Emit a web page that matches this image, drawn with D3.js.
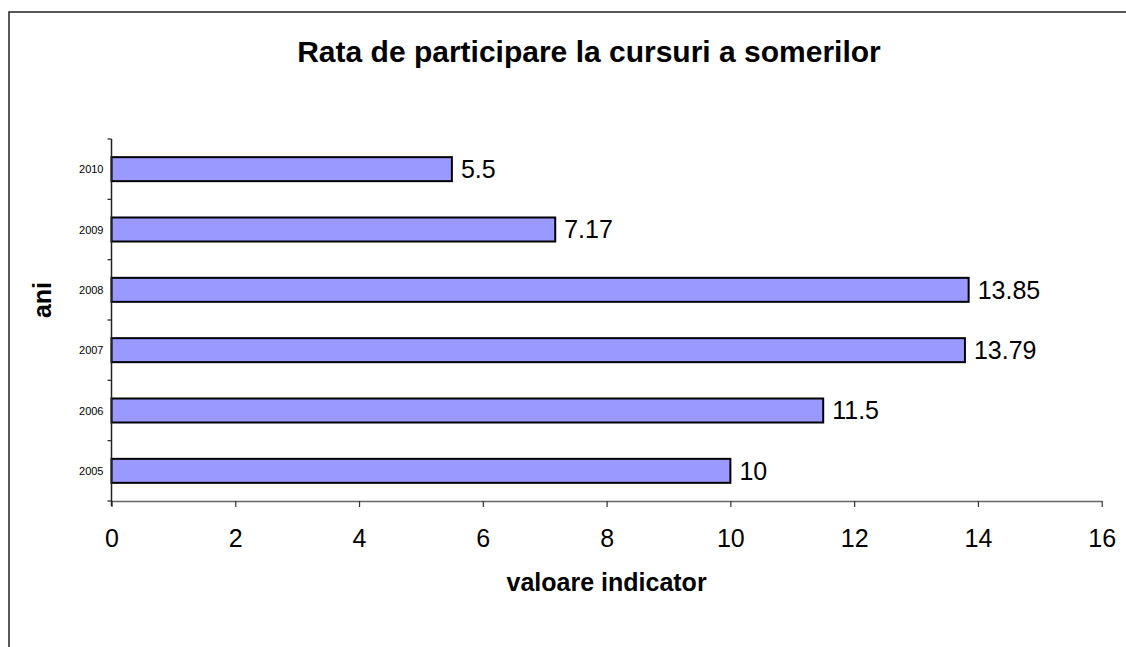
<!DOCTYPE html>
<html><head><meta charset="utf-8">
<script src="https://cdn.jsdelivr.net/npm/d3@7"></script>
<style>body{margin:0;background:#fff;} text{font-family:"Liberation Sans",Arial,sans-serif;}</style>
</head><body>
<svg id="c" width="1126" height="647"></svg>
<script>
const years = ["2005","2006","2007","2008","2009","2010"];
const values = [10, 11.5, 13.79, 13.85, 7.17, 5.5];
const valueLabels = ["10","11.5","13.79","13.85","7.17","5.5"];
const xTicks = [0,2,4,6,8,10,12,14,16];
const title = "Rata de participare la cursuri a somerilor";
const xTitle = "valoare indicator";
const yTitle = "ani";

const svg = d3.select("#c");
svg.append("rect").attr("x",9).attr("y",12).attr("width",1130).attr("height",650)
  .attr("fill","#fff").attr("stroke","#222").attr("stroke-width",1.5);

const L=111.5, R=1101.7, T=139, B=501;
const x = d3.scaleLinear().domain([0,16]).range([L,R]);
const band = (B-T)/years.length;
const yc = (d) => T + (years.length-1-years.indexOf(d))*band + band/2;

// bars
svg.selectAll("rect.bar").data(years).enter().append("rect")
  .attr("class","bar")
  .attr("x",x(0))
  .attr("y",(d)=>yc(d) - 12)
  .attr("height",24)
  .attr("width",(d,i)=>x(values[i])-x(0))
  .attr("fill","#9999ff").attr("stroke","#000").attr("stroke-width",2);

// value labels
svg.selectAll("text.val").data(years).enter().append("text")
  .attr("x",(d,i)=>x(values[i])+9)
  .attr("y",(d)=>yc(d) + 8.8)
  .attr("font-size",25).attr("fill","#000")
  .text((d,i)=>valueLabels[i]);

// x axis
const xa = svg.append("g").attr("transform",`translate(0,${B})`)
  .call(d3.axisBottom(x).tickValues(xTicks).tickSize(6).tickSizeOuter(0).tickFormat(d3.format("d")));
xa.select(".domain").attr("stroke","#666").attr("stroke-width",1.5);
xa.selectAll(".tick line").attr("stroke","#333").attr("stroke-width",1.2);
xa.selectAll(".tick text").attr("font-size",25).attr("fill","#000").attr("dy",0).attr("y",46)
  .attr("font-family","Liberation Sans, Arial, sans-serif");

// y axis
const yg = svg.append("g");
yg.append("line").attr("x1",L).attr("x2",L).attr("y1",T).attr("y2",B+5).attr("stroke","#222").attr("stroke-width",1.5);
for(let i=0;i<=years.length;i++){
  yg.append("line").attr("x1",L-4).attr("x2",L).attr("y1",T+i*band).attr("y2",T+i*band).attr("stroke","#222").attr("stroke-width",1.2);
}
years.forEach((d)=>{
  yg.append("text").attr("x",103.5).attr("y",yc(d)+4)
    .attr("text-anchor","end").attr("font-size",11).attr("fill","#000").text(d);
});

// titles
svg.append("text").attr("x",589).attr("y",62).attr("text-anchor","middle")
  .attr("font-size",30).attr("font-weight","bold").text(title);
svg.append("text").attr("x",(L+R)/2).attr("y",591).attr("text-anchor","middle")
  .attr("font-size",25).attr("font-weight","bold").text(xTitle);
svg.append("text").attr("transform","translate(51,300) rotate(-90)").attr("text-anchor","middle")
  .attr("font-size",25).attr("font-weight","bold").text(yTitle);
</script>
</body></html>
